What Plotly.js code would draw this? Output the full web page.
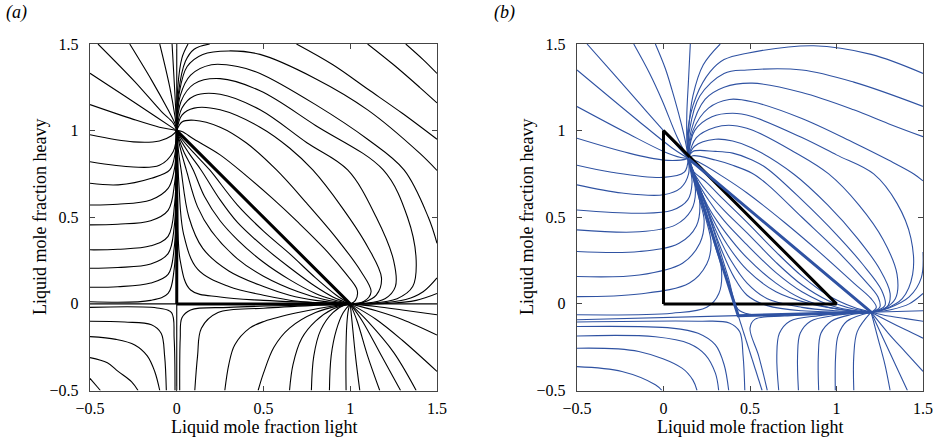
<!DOCTYPE html>
<html><head><meta charset="utf-8">
<script src="https://cdn.plot.ly/plotly-3.0.1.min.js"></script>
<style>html,body{margin:0;padding:0;background:#fff}#chart{width:939px;height:441px}</style>
</head><body><div id="chart"></div>
<script>
// ---------- Panel (a) data (x = light, y = heavy) ----------
const aTriangle = [[0,0],[1,0],[0,1],[0,0]];
const aExtensions = [[[0,1],[0,1.5]],[[0,0],[0,-0.5]],[[-0.5,0],[0,0]],[[1,0],[1.5,0]]];
const aUpperLeft = [
 [[-0.454,1.5],[-0.242,1.283],[-0.088,1.11],[-0.021,1.044],[0,1]],
 [[-0.271,1.5],[-0.146,1.293],[-0.05,1.12],[-0.01,1.04],[0,1]],
 [[-0.098,1.5],[-0.04,1.25],[-0.01,1.08],[0,1]],
 [[-0.027,1.5],[-0.01,1.2],[0,1]],
 [[-0.5,1.331],[-0.3,1.2],[-0.12,1.08],[-0.03,1.02],[0,1]],
 [[-0.5,1.15],[-0.25,1.065],[-0.1,1.02],[-0.02,1.005],[0,1]],
 [[-0.5,0.976],[-0.25,0.935],[-0.1,0.94],[-0.03,0.97],[0,1]],
 [[-0.5,0.82],[-0.25,0.79],[-0.1,0.8],[-0.02,0.88],[0,1]]
];
const aLeft = [
 [[-0.5,0.696],[-0.338,0.687],[-0.146,0.725],[-0.04,0.773],[-0.008,0.88],[0,1]],
 [[-0.5,0.571],[-0.34,0.575],[-0.15,0.6],[-0.05,0.667],[-0.015,0.77],[-0.003,0.9],[0,1]],
 [[-0.5,0.456],[-0.34,0.46],[-0.15,0.48],[-0.05,0.54],[-0.012,0.7],[0,1]],
 [[-0.5,0.312],[-0.34,0.315],[-0.15,0.335],[-0.05,0.39],[-0.012,0.58],[-0.002,0.85],[0,1]],
 [[-0.5,0.206],[-0.34,0.21],[-0.15,0.23],[-0.05,0.29],[-0.015,0.44],[-0.003,0.8],[0,1]],
 [[-0.5,0.096],[-0.34,0.099],[-0.15,0.12],[-0.05,0.17],[-0.015,0.32],[-0.003,0.7],[0,1]],
 [[-0.5,0.012],[-0.15,0.02],[-0.05,0.06],[-0.015,0.2],[-0.003,0.6],[0,1]]
];
const aInside = [
 [[1,0],[0.92,0.05],[0.8,0.15],[0.65,0.29],[0.5,0.42],[0.35,0.57],[0.19,0.773],[0.1,0.87],[0.03,0.95],[0,1]],
 [[1,0],[0.9,0.04],[0.8,0.1],[0.65,0.21],[0.5,0.33],[0.35,0.47],[0.25,0.6],[0.14,0.773],[0.07,0.87],[0.02,0.95],[0,1]],
 [[1,0],[0.9,0.025],[0.8,0.06],[0.65,0.14],[0.5,0.24],[0.35,0.37],[0.25,0.48],[0.16,0.62],[0.095,0.773],[0.04,0.88],[0.01,0.96],[0,1]],
 [[1,0],[0.85,0.025],[0.7,0.07],[0.5,0.16],[0.35,0.26],[0.2,0.42],[0.12,0.56],[0.055,0.773],[0.02,0.9],[0,1]],
 [[1,0],[0.8,0.02],[0.65,0.05],[0.5,0.1],[0.3,0.19],[0.15,0.32],[0.07,0.5],[0.025,0.773],[0.008,0.9],[0,1]],
 [[1,0],[0.7,0.015],[0.5,0.05],[0.3,0.1],[0.12,0.2],[0.04,0.4],[0.012,0.7],[0,1]],
 [[1,0],[0.5,0.02],[0.25,0.04],[0.08,0.08],[0.02,0.25],[0.005,0.6],[0,1]]
];
const aOuter = [
 [[0,1],[0.03,0.995],[0.1,0.95],[0.25,0.86],[0.4,0.74],[0.55,0.61],[0.7,0.47],[0.85,0.32],[0.97,0.18],[1.04,0.08],[1.03,0.02],[1,0]],
 [[0,1],[0.03,1.05],[0.1,1.06],[0.25,1.02],[0.4,0.93],[0.575,0.773],[0.75,0.58],[0.92,0.38],[1.06,0.19],[1.12,0.07],[1.08,0.015],[1,0]],
 [[0,1],[0.03,1.09],[0.1,1.13],[0.25,1.12],[0.48,1.02],[0.65,0.9],[0.784,0.773],[0.95,0.56],[1.1,0.33],[1.18,0.15],[1.15,0.05],[1.08,0.01],[1,0]],
 [[0,1],[0.03,1.13],[0.1,1.2],[0.25,1.21],[0.48,1.12],[0.75,0.93],[0.985,0.773],[1.15,0.5],[1.25,0.25],[1.26,0.1],[1.2,0.03],[1.08,0.003],[1,0]],
 [[0,1],[0.025,1.17],[0.1,1.27],[0.25,1.3],[0.48,1.23],[0.8,1.03],[1.19,0.773],[1.33,0.5],[1.38,0.25],[1.36,0.1],[1.27,0.03],[1.1,0.003],[1,0]],
 [[0,1],[0.02,1.2],[0.08,1.32],[0.2,1.38],[0.35,1.37],[0.48,1.33],[0.8,1.15],[1.1,0.95],[1.31,0.773],[1.45,0.5],[1.5,0.35]],
 [[0,1],[0.015,1.22],[0.06,1.37],[0.15,1.44],[0.3,1.46],[0.48,1.44],[0.8,1.3],[1.1,1.12],[1.4,0.87],[1.5,0.77]],
 [[0,1],[0.01,1.22],[0.05,1.4],[0.1,1.47],[0.19,1.5]],
 [[0,1],[0.006,1.25],[0.03,1.42],[0.065,1.5]]
];
const aReentering = [
 [[0.69,1.5],[0.9,1.38],[1.1,1.24],[1.3,1.1],[1.5,0.95]],
 [[1.1,1.5],[1.25,1.38],[1.4,1.25],[1.5,1.16]],
 [[1.32,1.5],[1.42,1.41],[1.5,1.33]]
];
const aReturning = [
 [[1.5,0.15],[1.42,0.07],[1.32,0.025],[1.15,0.003],[1,0]],
 [[1.5,0.06],[1.38,0.02],[1.2,0.002],[1,0]]
];
const aLowerLeft = [
 [[-0.5,-0.02],[-0.1,-0.025],[-0.03,-0.05],[-0.015,-0.2],[-0.01,-0.5]],
 [[-0.5,-0.1],[-0.3,-0.105],[-0.146,-0.121],[-0.09,-0.17],[-0.07,-0.3],[-0.06,-0.5]],
 [[-0.5,-0.189],[-0.35,-0.205],[-0.242,-0.237],[-0.17,-0.3],[-0.127,-0.39],[-0.098,-0.5]],
 [[-0.5,-0.31],[-0.4,-0.34],[-0.338,-0.39],[-0.26,-0.45],[-0.223,-0.5]],
 [[-0.5,-0.43],[-0.44,-0.5]]
];
const aLowerMiddle = [
 [[0.017,-0.5],[0.02,-0.2],[0.03,-0.08],[0.08,-0.035],[0.3,-0.02],[0.7,-0.008],[1,0]],
 [[0.104,-0.5],[0.12,-0.3],[0.142,-0.14],[0.238,-0.05],[0.5,-0.025],[0.8,-0.008],[1,0]],
 [[0.277,-0.5],[0.3,-0.35],[0.334,-0.237],[0.42,-0.14],[0.507,-0.1],[0.7,-0.05],[0.9,-0.012],[1,0]],
 [[0.469,-0.5],[0.5,-0.4],[0.56,-0.25],[0.65,-0.14],[0.8,-0.05],[0.95,-0.008],[1,0]],
 [[0.65,-0.5],[0.67,-0.35],[0.72,-0.2],[0.8,-0.1],[0.9,-0.03],[1,0]],
 [[0.776,-0.5],[0.79,-0.3],[0.83,-0.15],[0.9,-0.05],[0.97,-0.005],[1,0]],
 [[0.88,-0.5],[0.89,-0.3],[0.92,-0.15],[0.96,-0.05],[1,0]],
 [[0.976,-0.5],[0.975,-0.3],[0.98,-0.12],[0.99,-0.03],[1,0]]
];
const aLowerRight = [
 [[1,0],[1.15,-0.015],[1.3,-0.035],[1.5,-0.063]],
 [[1,0],[1.15,-0.04],[1.3,-0.09],[1.5,-0.18]],
 [[1,0],[1.15,-0.09],[1.3,-0.21],[1.5,-0.39]],
 [[1,0],[1.1,-0.1],[1.25,-0.28],[1.38,-0.5]],
 [[1,0],[1.07,-0.1],[1.18,-0.3],[1.29,-0.5]],
 [[1,0],[1.04,-0.1],[1.1,-0.3],[1.17,-0.5]],
 [[1,0],[1.01,-0.1],[1.03,-0.3],[1.055,-0.5]]
];

// ---------- Panel (b) data ----------
const bBlackTriangle = [[0,0],[1,0],[0,1],[0,0]];
const bBlueTriangle = [[0.143,0.84],[0.432,-0.068],[1.2,-0.048],[0.143,0.84]];
const bExtensions = [[[0.432,-0.068],[-0.5,-0.092]],[[1.2,-0.048],[1.5,-0.04]],[[0.432,-0.068],[0.57,-0.5]]];
const bUpperLeft = [
 [[-0.442,1.5],[-0.3,1.34],[-0.15,1.17],[0.0,1.0],[0.143,0.84]],
 [[-0.172,1.5],[-0.08,1.33],[-0.009,1.177],[0.08,0.96],[0.143,0.84]],
 [[-0.047,1.5],[0.01,1.36],[0.049,1.235],[0.1,1.05],[0.13,0.92],[0.143,0.84]],
 [[0.155,1.5],[0.145,1.3],[0.135,1.1],[0.135,0.95],[0.143,0.84]],
 [[0.328,1.5],[0.23,1.38],[0.17,1.2],[0.145,1.0],[0.143,0.84]],
 [[-0.5,1.35],[-0.15,1.06],[0.05,0.9],[0.143,0.84]],
 [[-0.5,1.139],[-0.2,0.98],[0.0,0.88],[0.1,0.845],[0.143,0.84]],
 [[-0.5,0.956],[-0.2,0.87],[0.0,0.83],[0.1,0.83],[0.143,0.84]],
 [[-0.5,0.8],[-0.3,0.76],[0.0,0.73],[0.12,0.76],[0.143,0.84]]
];
const bLeft = [
 [[-0.5,0.687],[-0.24,0.64],[0.0,0.63],[0.1,0.67],[0.145,0.75],[0.143,0.84]],
 [[-0.5,0.542],[-0.14,0.523],[0.05,0.54],[0.14,0.6],[0.165,0.7],[0.15,0.8],[0.143,0.84]],
 [[-0.5,0.427],[-0.14,0.416],[0.07,0.456],[0.16,0.54],[0.185,0.65],[0.16,0.77],[0.143,0.84]],
 [[-0.5,0.302],[-0.14,0.302],[0.09,0.35],[0.19,0.45],[0.21,0.58],[0.18,0.71],[0.143,0.84]],
 [[-0.5,0.158],[-0.14,0.167],[0.11,0.235],[0.21,0.35],[0.235,0.48],[0.205,0.61],[0.17,0.73],[0.143,0.84]],
 [[-0.5,0.042],[-0.14,0.057],[0.15,0.12],[0.25,0.23],[0.275,0.35],[0.245,0.49],[0.205,0.63],[0.168,0.76],[0.143,0.84]],
 [[-0.5,-0.063],[0.05,-0.054],[0.25,-0.02],[0.32,0.06],[0.335,0.2],[0.3,0.33],[0.26,0.47],[0.215,0.62],[0.17,0.76],[0.143,0.84]]
];
const bInside = [
 [[0.143,0.84],[0.17,0.77],[0.25,0.7],[0.35,0.6],[0.483,0.47],[0.65,0.3],[0.8,0.16],[0.95,0.05],[1.1,-0.02],[1.2,-0.048]],
 [[0.143,0.84],[0.18,0.75],[0.25,0.65],[0.35,0.54],[0.483,0.41],[0.65,0.24],[0.8,0.11],[0.95,0.02],[1.1,-0.03],[1.2,-0.048]],
 [[0.143,0.84],[0.19,0.72],[0.26,0.6],[0.35,0.48],[0.483,0.34],[0.65,0.18],[0.8,0.07],[1.0,-0.02],[1.2,-0.048]],
 [[0.143,0.84],[0.195,0.7],[0.27,0.54],[0.36,0.41],[0.483,0.265],[0.65,0.12],[0.8,0.03],[1.0,-0.03],[1.2,-0.048]],
 [[0.143,0.84],[0.205,0.68],[0.28,0.5],[0.37,0.34],[0.483,0.196],[0.65,0.07],[0.85,0.0],[1.05,-0.035],[1.2,-0.048]],
 [[0.143,0.84],[0.215,0.65],[0.3,0.43],[0.39,0.25],[0.483,0.12],[0.6,0.03],[0.8,-0.02],[1.0,-0.04],[1.2,-0.048]],
 [[0.143,0.84],[0.235,0.6],[0.32,0.35],[0.41,0.15],[0.483,0.05],[0.6,-0.01],[0.8,-0.04],[1.2,-0.048]],
 [[0.143,0.84],[0.265,0.5],[0.375,0.15],[0.43,-0.03],[0.5,-0.06],[0.8,-0.06],[1.2,-0.048]]
];
const bOuter = [
 [[0.143,0.84],[0.2,0.82],[0.35,0.73],[0.483,0.64],[0.7,0.47],[0.9,0.3],[1.1,0.12],[1.2,0.03],[1.23,-0.02],[1.2,-0.048]],
 [[0.143,0.84],[0.17,0.855],[0.3,0.83],[0.4,0.8],[0.512,0.754],[0.6,0.69],[0.8,0.5],[1.0,0.31],[1.15,0.15],[1.24,0.04],[1.25,-0.02],[1.2,-0.048]],
 [[0.143,0.84],[0.17,0.88],[0.3,0.88],[0.4,0.87],[0.512,0.831],[0.6,0.78],[0.8,0.6],[1.0,0.4],[1.15,0.23],[1.26,0.08],[1.28,-0.01],[1.2,-0.048]],
 [[0.143,0.84],[0.18,0.91],[0.3,0.95],[0.4,0.94],[0.512,0.9],[0.752,0.75],[0.95,0.57],[1.12,0.38],[1.25,0.2],[1.31,0.06],[1.29,-0.02],[1.2,-0.048]],
 [[0.143,0.84],[0.19,0.96],[0.3,1.02],[0.4,1.03],[0.512,1.004],[0.75,0.88],[0.955,0.75],[1.13,0.57],[1.27,0.37],[1.35,0.17],[1.34,0.03],[1.27,-0.03],[1.2,-0.048]],
 [[0.143,0.84],[0.18,1.0],[0.28,1.08],[0.4,1.1],[0.512,1.081],[0.8,0.96],[1.0,0.86],[1.215,0.75],[1.35,0.58],[1.43,0.38],[1.44,0.17],[1.38,0.03],[1.28,-0.03],[1.2,-0.048]],
 [[0.143,0.84],[0.17,1.0],[0.26,1.13],[0.38,1.18],[0.512,1.167],[0.8,1.07],[1.1,0.93],[1.3,0.83],[1.447,0.75],[1.5,0.71]],
 [[0.143,0.84],[0.16,1.0],[0.24,1.18],[0.35,1.25],[0.512,1.274],[0.8,1.22],[1.1,1.12],[1.3,1.04],[1.5,0.965]],
 [[0.143,0.84],[0.15,1.0],[0.21,1.2],[0.35,1.33],[0.483,1.35],[0.8,1.35],[1.1,1.28],[1.5,1.14]],
 [[0.143,0.84],[0.14,1.0],[0.19,1.2],[0.27,1.34],[0.35,1.41],[0.483,1.447],[0.868,1.49],[1.2,1.44],[1.5,1.33]]
];
const bReturning = [
 [[1.5,0.3],[1.49,0.15],[1.42,0.04],[1.3,-0.025],[1.2,-0.048]],
 [[1.5,0.06],[1.42,0.0],[1.32,-0.032],[1.2,-0.048]]
];
const bLowerLeft = [
 [[-0.5,-0.105],[0.2,-0.1],[0.38,-0.11],[0.44,-0.16],[0.46,-0.3],[0.47,-0.5]],
 [[-0.5,-0.131],[0.049,-0.14],[0.2,-0.17],[0.3,-0.237],[0.35,-0.35],[0.377,-0.5]],
 [[-0.5,-0.185],[-0.047,-0.19],[0.15,-0.23],[0.242,-0.294],[0.3,-0.4],[0.319,-0.5]],
 [[-0.5,-0.256],[-0.143,-0.275],[0.107,-0.371],[0.17,-0.44],[0.194,-0.5]],
 [[-0.5,-0.362],[-0.24,-0.39],[-0.047,-0.467],[-0.009,-0.5]]
];
const bLowerMiddle = [
 [[0.6,-0.5],[0.55,-0.3],[0.5,-0.14],[0.53,-0.088],[0.7,-0.07],[1.0,-0.056],[1.2,-0.048]],
 [[0.666,-0.5],[0.655,-0.3],[0.67,-0.17],[0.73,-0.1],[0.9,-0.068],[1.2,-0.048]],
 [[0.78,-0.5],[0.775,-0.3],[0.79,-0.17],[0.85,-0.1],[1.0,-0.065],[1.2,-0.048]],
 [[0.897,-0.5],[0.895,-0.3],[0.91,-0.17],[0.97,-0.1],[1.08,-0.063],[1.2,-0.048]],
 [[0.993,-0.5],[0.995,-0.3],[1.01,-0.18],[1.06,-0.1],[1.2,-0.048]],
 [[1.1,-0.5],[1.1,-0.3],[1.12,-0.16],[1.2,-0.048]]
];
const bLowerRight = [
 [[1.2,-0.048],[1.24,-0.2],[1.28,-0.35],[1.31,-0.5]],
 [[1.2,-0.048],[1.27,-0.2],[1.34,-0.35],[1.41,-0.5]],
 [[1.2,-0.048],[1.3,-0.17],[1.4,-0.28],[1.5,-0.39]],
 [[1.2,-0.048],[1.3,-0.1],[1.4,-0.15],[1.5,-0.198]],
 [[1.2,-0.048],[1.3,-0.07],[1.4,-0.085],[1.5,-0.1]]
];

const tickValues = [-0.5, 0, 0.5, 1, 1.5];
const tickLabels = ['\u22120.5', '0', '0.5', '1', '1.5'];

// ---------- build traces ----------
const BLUE = '#2f52a2';
const traces = [];
function add(curves, panel, color, width, shape) {
  curves.forEach(c => traces.push({
    x: c.map(p => p[0]), y: c.map(p => p[1]),
    xaxis: panel === 'a' ? 'x' : 'x2', yaxis: panel === 'a' ? 'y' : 'y2',
    mode: 'lines', hoverinfo: 'skip', showlegend: false,
    line: {color: color, width: width, shape: shape || 'spline', smoothing: 1.0}
  }));
}
add(aExtensions, 'a', '#000', 1.1, 'linear');
[aUpperLeft, aLeft, aInside, aOuter, aReentering, aReturning, aLowerLeft, aLowerMiddle, aLowerRight]
  .forEach(f => add(f, 'a', '#000', 1.1));
add([aTriangle], 'a', '#000', 3, 'linear');

add(bExtensions, 'b', BLUE, 1.1, 'linear');
[bUpperLeft, bLeft, bInside, bOuter, bReturning, bLowerLeft, bLowerMiddle, bLowerRight]
  .forEach(f => add(f, 'b', BLUE, 1.1));
add([bBlackTriangle], 'b', '#000', 3, 'linear');
add([bBlueTriangle], 'b', BLUE, 3, 'linear');

const W = 939, H = 441;
const serif = 'Liberation Serif, Times New Roman, serif';
function ax(domain, standoff) {
  return {domain: domain, range: [-0.5, 1.5], tickmode: 'array', tickvals: tickValues, ticktext: tickLabels,
    ticks: 'inside', ticklen: 5, tickwidth: 1, tickcolor: '#444', showline: true, linecolor: '#444',
    linewidth: 1.2, mirror: 'ticks', showgrid: false, zeroline: false, fixedrange: true,
    ticklabelstandoff: standoff, tickfont: {family: serif, size: 16, color: '#000'}};
}
const yDom = [1 - 390.5 / H, 1 - 44 / H];
function label(text, px, py, angle) {
  return {text: text, x: px / W, y: 1 - py / H, xref: 'paper', yref: 'paper', xanchor: 'center', yanchor: 'middle',
    showarrow: false, textangle: angle || 0, font: {family: serif, size: 18, color: '#000'}};
}
const layout = {
  width: W, height: H, margin: {l: 0, r: 0, t: 0, b: 0},
  paper_bgcolor: '#fff', plot_bgcolor: '#fff', showlegend: false,
  xaxis: Object.assign(ax([90 / W, 437 / W], 3), {anchor: 'y'}),
  yaxis: Object.assign(ax(yDom, 7), {anchor: 'x'}),
  xaxis2: Object.assign(ax([577 / W, 923 / W], 3), {anchor: 'y2'}),
  yaxis2: Object.assign(ax(yDom, 7), {anchor: 'x2'}),
  annotations: [
    label('Liquid mole fraction light', 264, 427),
    label('Liquid mole fraction light', 750, 427),
    label('Liquid mole fraction heavy', 40, 217, -90),
    label('Liquid mole fraction heavy', 527, 217, -90),
    label('<i>(a)</i>', 16, 13),
    label('<i>(b)</i>', 504, 13)
  ]
};
Plotly.newPlot('chart', traces, layout, {staticPlot: true, displayModeBar: false});
</script></body></html>
